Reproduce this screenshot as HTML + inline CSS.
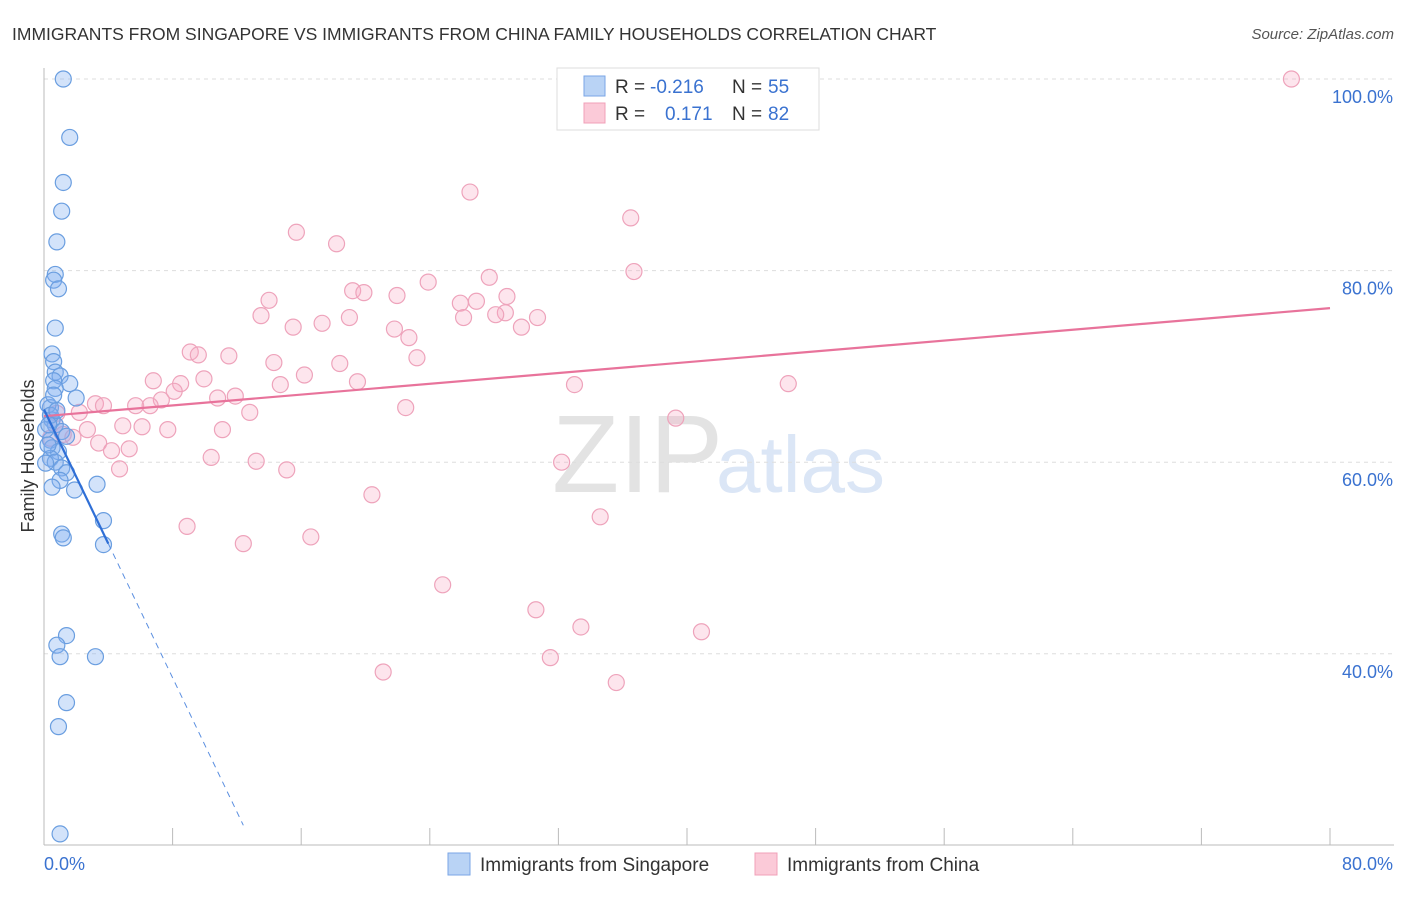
<!DOCTYPE html>
<html><head><meta charset="utf-8"><style>
body{margin:0;background:#fff;font-family:"Liberation Sans",sans-serif;}
svg text{font-family:"Liberation Sans",sans-serif;}
</style></head><body>
<svg id="chart" width="1406" height="892" xmlns="http://www.w3.org/2000/svg">
<text x="12" y="40" font-size="17.5" fill="#333">IMMIGRANTS FROM SINGAPORE VS IMMIGRANTS FROM CHINA FAMILY HOUSEHOLDS CORRELATION CHART</text>
<text x="1394" y="39" font-size="15" fill="#555" font-style="italic" text-anchor="end">Source: ZipAtlas.com</text>
<g>
<text x="552" y="492" font-size="110" fill="#e3e3e3" font-family="Liberation Serif,serif">ZIP</text>
<text x="716" y="492" font-size="80" fill="#dbe6f6">atlas</text>
</g>
<g id="grid"></g>
<g id="axes"></g>
<g id="marks"></g>
<g>
<rect x="557" y="68" width="262" height="62" fill="#fff" stroke="#ddd"/>
<rect x="584" y="76" width="21" height="20" fill="#b9d3f5" stroke="#7aa6e6"/>
<rect x="584" y="103" width="21" height="20" fill="#fbcad8" stroke="#f0a0b8"/>
<text x="615" y="93" font-size="19" fill="#333">R = </text><text x="650" y="93" font-size="19" fill="#3a72d0">-0.216</text>
<text x="732" y="93" font-size="19" fill="#333">N = </text><text x="768" y="93" font-size="19" fill="#3a72d0">55</text>
<text x="615" y="120" font-size="19" fill="#333">R = </text><text x="665" y="120" font-size="19" fill="#3a72d0">0.171</text>
<text x="732" y="120" font-size="19" fill="#333">N = </text><text x="768" y="120" font-size="19" fill="#3a72d0">82</text>
</g>
<g>
<rect x="448" y="853" width="22" height="22" fill="#b9d3f5" stroke="#7aa6e6"/>
<text x="480" y="871" font-size="19" fill="#333">Immigrants from Singapore</text>
<rect x="755" y="853" width="22" height="22" fill="#fbcad8" stroke="#f0a0b8"/>
<text x="787" y="871" font-size="19" fill="#333">Immigrants from China</text>
</g>
<text transform="translate(34,456) rotate(-90)" font-size="18" fill="#333" text-anchor="middle">Family Households</text>
</svg>
<script>
const yTicks=[40,60,80,100];
const yTickLabels=["40.0%","60.0%","80.0%","100.0%"];
const xTickLabels=["0.0%","80.0%"];
const singaporeX=[1.2,1.6,1.2,1.1,0.8,0.7,0.6,0.9,0.7,0.5,0.6,0.7,1.0,0.6,1.6,0.7,2.0,0.4,0.5,0.7,1.1,1.4,0.4,0.5,0.9,0.4,0.7,1.1,1.4,1.0,0.5,1.9,3.3,3.7,1.1,1.2,3.7,1.4,0.8,1.0,3.2,1.4,0.9,1.0,0.25,0.4,0.1,0.25,0.6,0.1,0.8,0.3];
const singaporeY=[100,93.9,89.2,86.2,83.0,79.6,79.0,78.1,74.0,71.3,70.5,69.4,69.0,68.5,68.2,67.7,66.7,65.7,64.4,63.9,63.2,62.7,62.3,61.5,61.1,60.4,60.0,59.4,58.9,58.1,57.4,57.1,57.7,53.9,52.5,52.1,51.4,41.9,40.9,39.7,39.7,34.9,32.4,21.2,66,64.9,63.4,61.8,67.0,59.9,65.4,63.9];
const chinaX=[77.6,26.5,36.5,15.7,18.2,36.7,27.7,23.9,19.2,19.9,21.96,28.8,14.0,26.9,25.9,13.5,28.7,28.1,30.7,26.1,19.0,17.3,15.5,29.7,21.8,22.7,9.1,9.6,11.5,23.2,14.3,18.4,16.2,6.8,19.5,8.5,33.0,46.3,9.95,14.7,8.1,10.8,11.9,7.3,3.2,3.7,5.7,6.6,22.5,12.8,2.2,0.8,39.3,4.9,6.1,7.7,11.1,2.7,1.2,1.8,3.4,5.3,4.2,10.4,13.2,32.2,4.7,15.1,20.4,34.6,8.9,16.6,12.4,24.8,30.6,33.4,40.9,31.5,21.1,35.6,0.7,0.4];
const chinaY=[100,88.2,85.5,84.0,82.8,79.9,79.3,78.8,77.9,77.7,77.4,77.3,76.9,76.8,76.6,75.3,75.6,75.4,75.1,75.1,75.1,74.5,74.1,74.1,73.9,73.0,71.5,71.2,71.1,70.9,70.4,70.3,69.1,68.5,68.4,68.2,68.1,68.2,68.7,68.1,67.4,66.7,66.9,66.5,66.1,65.9,65.9,65.9,65.7,65.2,65.2,65.1,64.6,63.8,63.7,63.4,63.4,63.4,62.9,62.6,62.0,61.4,61.2,60.5,60.1,60.0,59.3,59.2,56.6,54.3,53.3,52.2,51.5,47.2,44.6,42.8,42.3,39.6,38.1,37.0,63.9,62.5];
const singaporeTrend=[65.5,-3.5];
const chinaTrend=[64.8,0.141];

const NS="http://www.w3.org/2000/svg";
const X=v=>44+v*(1286/80);
const Y=v=>79+(100-v)*9.58;
function mk(tag,attrs,parent){const e=document.createElementNS(NS,tag);for(const k in attrs)e.setAttribute(k,attrs[k]);document.getElementById(parent).appendChild(e);return e;}

yTicks.forEach((t,i)=>{
 const g=mk('line',{x1:44,x2:1394,y1:Y(t),y2:Y(t),stroke:'#ddd','stroke-dasharray':'4,4'},'grid');
 
 
 const l=mk('text',{x:1393,y:Y(t)+24,'font-size':18,fill:'#3a72d0','text-anchor':'end'},'axes');
 l.textContent=yTickLabels[i];
 
 
});
const ax=mk('line',{x1:44,x2:44,y1:68,y2:845,stroke:'#bbb'},'axes');


const bx=mk('line',{x1:44,x2:1394,y1:845,y2:845,stroke:'#bbb'},'axes');


for(let i=0;i<=10;i++){
 const t=mk('line',{x1:X(i*8),x2:X(i*8),y1:828,y2:845,stroke:'#bbb'},'axes');
 
 
}
const xl0=mk('text',{x:44,y:870,'font-size':18,fill:'#3a72d0'},'axes');xl0.textContent=xTickLabels[0];


const xl1=mk('text',{x:1393,y:870,'font-size':18,fill:'#3a72d0','text-anchor':'end'},'axes');xl1.textContent=xTickLabels[1];



chinaX.forEach((v,i)=>{
 const c=mk('circle',{cx:X(v),cy:Y(chinaY[i]),r:8,fill:'rgba(248,170,195,0.3)',stroke:'#eea3bb','stroke-width':1.2},'marks');
 
 
});
singaporeX.forEach((v,i)=>{
 const c=mk('circle',{cx:X(v),cy:Y(singaporeY[i]),r:8,fill:'rgba(130,175,240,0.35)',stroke:'#6a9ee0','stroke-width':1.2},'marks');
 
 
});
const ct=mk('line',{x1:X(0),y1:Y(chinaTrend[0]),x2:X(80),y2:Y(chinaTrend[0]+80*chinaTrend[1]),stroke:'#e8739b','stroke-width':2.2},'marks');


const sEnd=4,sDash=12.4;
const st=mk('line',{x1:X(0),y1:Y(singaporeTrend[0]),x2:X(sEnd),y2:Y(singaporeTrend[0]+sEnd*singaporeTrend[1]),stroke:'#2f6fd6','stroke-width':2.2},'marks');


const sd=mk('line',{x1:X(sEnd),y1:Y(singaporeTrend[0]+sEnd*singaporeTrend[1]),x2:X(sDash),y2:Y(singaporeTrend[0]+sDash*singaporeTrend[1]),stroke:'#5b8fe0','stroke-width':1,'stroke-dasharray':'6,5'},'marks');


</script>
</body></html>
